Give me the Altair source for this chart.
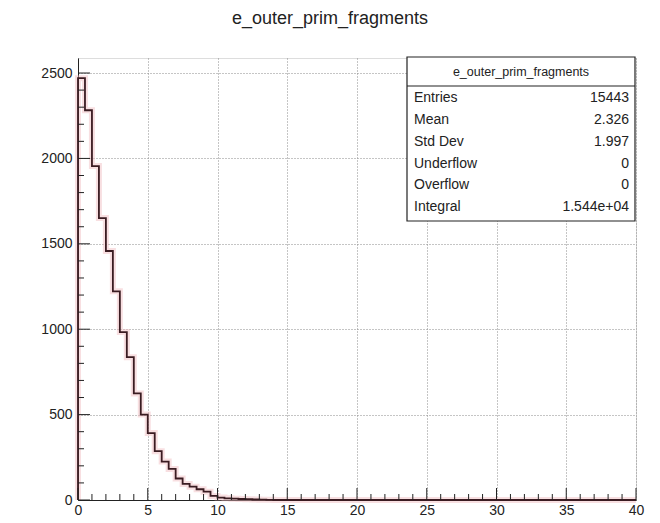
import altair as alt
import pandas as pd

# Histogram: 80 bins of width 0.5 from 0 to 40
bin_width = 0.5
counts = [2470, 2282, 1955, 1651, 1458, 1222, 983, 836, 624, 500,
          392, 286, 225, 182, 126, 94, 78, 63, 49, 24,
          14, 10, 8, 6, 5, 3, 2, 1] + [0] * 52

title_text = "e_outer_prim_fragments"
stat_names = ["Entries", "Mean", "Std Dev", "Underflow", "Overflow", "Integral"]
stat_values = ["15443", "2.326", "1.997", "0", "0", "1.544e+04"]

x_major = [0, 5, 10, 15, 20, 25, 30, 35, 40]
x_minor = [v for v in range(0, 41) if v % 5 != 0]
y_major = [0, 500, 1000, 1500, 2000, 2500]
y_minor = [v for v in range(0, 2600, 100) if v % 500 != 0]

W, H = 558, 442
XMAX, YMAX = 40, 2588
FONT = "Liberation Sans"

# step outline points
pts = [{"x": 0.0, "y": 0}]
for i, c in enumerate(counts):
    pts.append({"x": i * bin_width, "y": c})
pts.append({"x": len(counts) * bin_width, "y": counts[-1]})
pts.append({"x": len(counts) * bin_width, "y": 0})
df = pd.DataFrame(pts)

xs = alt.Scale(domain=[0, XMAX], nice=False, zero=False)
ys = alt.Scale(domain=[0, YMAX], nice=False)

base = alt.Chart(df)

halo = base.mark_line(interpolate="step-after", color="#efb8bc", strokeWidth=6, opacity=0.45).encode(
    x=alt.X("x:Q", scale=xs, axis=alt.Axis(values=x_major, title=None, ticks=False, grid=True,
                                           gridDash=[1, 2], gridColor="#8a8a8a", gridWidth=1,
                                           labelFont=FONT, labelFontSize=14, labelColor="#222",
                                           labelPadding=3, domainColor="#222", labelFlush=False,
                                           format="d")),
    y=alt.Y("y:Q", scale=ys, axis=alt.Axis(values=y_major, title=None, ticks=False, grid=True,
                                           gridDash=[1, 2], gridColor="#8a8a8a", gridWidth=1,
                                           labelFont=FONT, labelFontSize=14, labelColor="#222",
                                           labelPadding=6, domainColor="#222", format="d")),
)
line = base.mark_line(interpolate="step-after", color="#3a1c22", strokeWidth=1.8).encode(
    x=alt.X("x:Q", scale=xs), y=alt.Y("y:Q", scale=ys)
)

# inward ticks
xt_major = alt.Chart(pd.DataFrame({"v": x_major})).mark_rule(color="#222").encode(
    x=alt.X("v:Q", scale=xs), y=alt.value(H), y2=alt.value(H - 12))
xt_minor = alt.Chart(pd.DataFrame({"v": x_minor})).mark_rule(color="#222").encode(
    x=alt.X("v:Q", scale=xs), y=alt.value(H), y2=alt.value(H - 6))
yt_major = alt.Chart(pd.DataFrame({"v": y_major})).mark_rule(color="#222").encode(
    y=alt.Y("v:Q", scale=ys), x=alt.value(0), x2=alt.value(12))
yt_minor = alt.Chart(pd.DataFrame({"v": y_minor})).mark_rule(color="#222").encode(
    y=alt.Y("v:Q", scale=ys), x=alt.value(0), x2=alt.value(6))

# stats box (pixel positions relative to plot area; plot origin at page (78,58))
bx0, bx1 = 407 - 78, 635 - 78
by0, by1 = 57 - 58, 221 - 58
hdr = 86 - 58
box = alt.Chart(pd.DataFrame({"a": [0]})).mark_rect(fill="white", stroke="#222", strokeWidth=1.2).encode(
    x=alt.value(bx0), x2=alt.value(bx1), y=alt.value(by0), y2=alt.value(by1))
sep = alt.Chart(pd.DataFrame({"a": [0]})).mark_rule(color="#222", strokeWidth=1.2).encode(
    x=alt.value(bx0), x2=alt.value(bx1), y=alt.value(hdr))
hdr_text = alt.Chart(pd.DataFrame({"t": [title_text]})).mark_text(
    font=FONT, fontSize=12.5, color="#222", align="center", baseline="middle").encode(
    text="t:N", x=alt.value((bx0 + bx1) / 2), y=alt.value(72 - 58))

row_y = [98, 120, 142, 164, 185, 207]
stats = pd.DataFrame({"name": stat_names, "val": stat_values})
stats["py"] = [r - 58 for r in row_y]
names = alt.Chart(stats).mark_text(font=FONT, fontSize=14, color="#222", align="left", baseline="middle").encode(
    text="name:N", x=alt.value(414 - 78), y=alt.Y("py:Q", scale=None))
vals = alt.Chart(stats).mark_text(font=FONT, fontSize=14, color="#222", align="right", baseline="middle").encode(
    text="val:N", x=alt.value(629 - 78), y=alt.Y("py:Q", scale=None))

chart = alt.layer(
    halo, line, xt_major, xt_minor, yt_major, yt_minor, box, sep, hdr_text, names, vals
).properties(
    width=W, height=H,
    padding={"left": 70, "top": 50, "right": 16, "bottom": 22},
    autosize="none",
    title=alt.TitleParams(title_text, font=FONT, fontSize=18, fontWeight="normal", color="#222",
                          anchor="middle", dx=-27, offset=28),
).configure_view(stroke="#222", strokeWidth=1.2).configure(background="white")

chart.save("out.html", embed_options={"renderer": "svg", "actions": False})
